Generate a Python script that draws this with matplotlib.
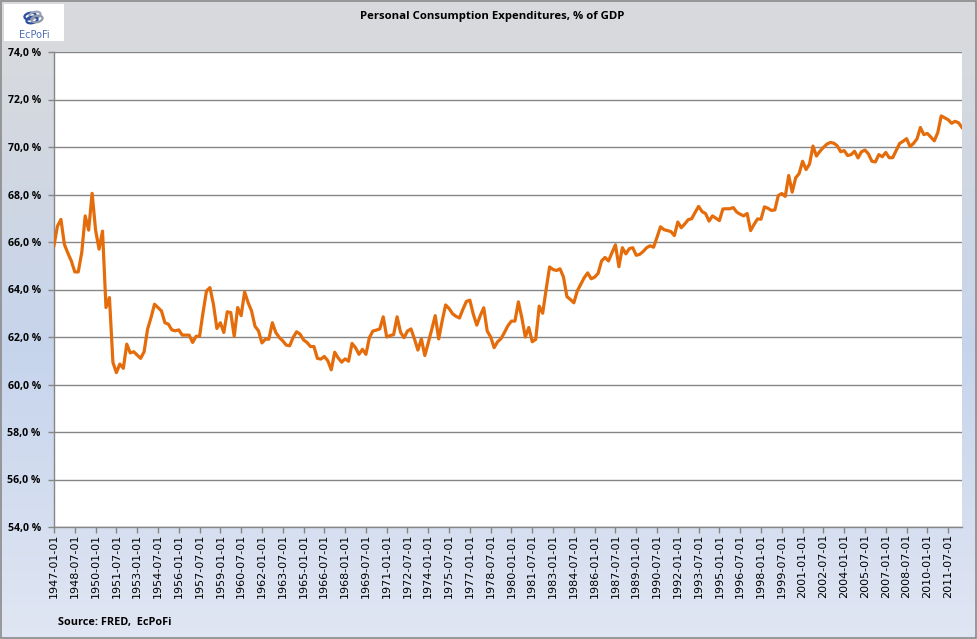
import numpy as np
import pandas as pd
import matplotlib
matplotlib.use("Agg")
import matplotlib.pyplot as plt
from matplotlib.patches import Rectangle, Ellipse
from matplotlib.colors import LinearSegmentedColormap

# ---------------- data ----------------
start_quarter = "1947-01-01"
n_quarters = 263
pce_pct_gdp = [
    65.86, 66.67, 66.95, 65.90, 65.53, 65.20, 64.74, 64.74, 65.55, 67.10,
    66.50, 68.05, 66.50, 65.70, 66.46, 63.24, 63.66, 60.93, 60.50, 60.86,
    60.68, 61.70, 61.33, 61.38, 61.24, 61.10, 61.38, 62.33, 62.82, 63.38,
    63.24, 63.10, 62.60, 62.54, 62.30, 62.26, 62.30, 62.08, 62.08, 62.08,
    61.77, 62.03, 62.03, 63.03, 63.94, 64.08, 63.38, 62.36, 62.60, 62.19,
    63.06, 63.03, 62.03, 63.24, 62.90, 63.90, 63.45, 63.10, 62.45, 62.26,
    61.75, 61.91, 61.91, 62.60, 62.19, 61.98, 61.84, 61.66, 61.63, 61.98,
    62.22, 62.12, 61.88, 61.77, 61.60, 61.60, 61.10, 61.07, 61.18, 61.00,
    60.62, 61.36, 61.12, 60.94, 61.08, 60.98, 61.73, 61.55, 61.27, 61.48,
    61.27, 61.97, 62.25, 62.29, 62.34, 62.85, 62.00, 62.06, 62.10, 62.85,
    62.20, 61.97, 62.25, 62.34, 61.92, 61.45, 61.92, 61.22, 61.76, 62.32,
    62.90, 61.92, 62.67, 63.35, 63.20, 62.98, 62.87, 62.80, 63.17, 63.50,
    63.55, 62.95, 62.50, 62.90, 63.23, 62.25, 62.00, 61.55, 61.80, 61.93,
    62.20, 62.48, 62.67, 62.67, 63.48, 62.80, 62.00, 62.40, 61.80, 61.90,
    63.30, 63.00, 64.00, 64.95, 64.84, 64.80, 64.87, 64.53, 63.70, 63.58,
    63.44, 63.94, 64.22, 64.50, 64.70, 64.45, 64.52, 64.68, 65.20, 65.35,
    65.20, 65.55, 65.88, 64.96, 65.76, 65.50, 65.72, 65.76, 65.44, 65.48,
    65.60, 65.76, 65.84, 65.78, 66.20, 66.64, 66.52, 66.48, 66.44, 66.27,
    66.84, 66.60, 66.76, 66.94, 66.98, 67.25, 67.50, 67.28, 67.20, 66.88,
    67.10, 67.00, 66.90, 67.39, 67.40, 67.40, 67.45, 67.26, 67.17, 67.10,
    67.20, 66.48, 66.74, 66.97, 66.96, 67.48, 67.42, 67.33, 67.35, 67.96,
    68.04, 67.92, 68.80, 68.10, 68.70, 68.88, 69.40, 69.05, 69.28, 70.04,
    69.62, 69.82, 69.98, 70.12, 70.19, 70.16, 70.05, 69.80, 69.85, 69.64,
    69.68, 69.82, 69.54, 69.80, 69.87, 69.71, 69.40, 69.37, 69.68, 69.59,
    69.77, 69.55, 69.55, 69.85, 70.15, 70.24, 70.35, 70.02, 70.15, 70.34,
    70.82, 70.52, 70.57, 70.42, 70.26, 70.60, 71.31, 71.23, 71.15, 71.00,
    71.08, 71.02, 70.82,
]
y_ticks = [54, 56, 58, 60, 62, 64, 66, 68, 70, 72, 74]
label_every = 6
title = "Personal Consumption Expenditures, % of GDP"
source = "Source: FRED,  EcPoFi"

dates = pd.date_range(start_quarter, periods=n_quarters, freq="QS")
cat_labels = [d.strftime("%Y-%m-%d") for d in dates]

# ---------------- figure ----------------
W, H = 977, 639
fig = plt.figure(figsize=(W / 100, H / 100), dpi=100)

def fx(px):
    return px / W

def fy(py):
    return 1 - py / H

# background gradient
bg = fig.add_axes([0, 0, 1, 1], zorder=-10)
cmap = LinearSegmentedColormap.from_list(
    "bg", [(0.0, "#d9dadc"), (0.12, "#d6d9de"), (0.55, "#c6d4ec"), (1.0, "#e0e6f3")])
grad = np.linspace(0, 1, 256).reshape(-1, 1)
bg.imshow(grad, aspect="auto", cmap=cmap, extent=[0, 1, 0, 1], origin="upper")
bg.set_xlim(0, 1); bg.set_ylim(0, 1)
bg.axis("off")
bg.add_patch(Rectangle((0.0008, 0.0012), 0.9984, 0.9976, fill=False,
                       edgecolor="#8a8a8a", lw=1.2, transform=bg.transAxes))

# logo
lx0, ly0, lx1, ly1 = 4, 4, 64, 41
bg.add_patch(Rectangle((fx(lx0), fy(ly1)), fx(lx1) - fx(lx0), fy(ly0) - fy(ly1),
                       facecolor="white", edgecolor="none", transform=bg.transAxes))
for k, (cx, cy, col) in enumerate([(30, 16, "#2d4f9e"), (35, 15, "#9aa6b8"),
                                   (32, 20, "#2d4f9e"), (37, 19, "#8f99ab")]):
    bg.add_patch(Ellipse((fx(cx), fy(cy)), fx(12), 6 / H, angle=35,
                         facecolor="none", edgecolor=col, lw=1.6, transform=bg.transAxes))
fig.text(fx(34), fy(35), "EcPoFi", ha="center", va="center", fontsize=7,
         color="#4a6cb3", family="DejaVu Sans")

# title & source
fig.text(fx(492), fy(17), title, ha="center", va="center", fontsize=8.2,
         fontweight="bold", family="Open Sans", color="black")
fig.text(fx(58), fy(622), source, ha="left", va="center", fontsize=7.8,
         fontweight="bold", family="Open Sans", color="black")

# plot area
L, R, T, B = 54, 962, 52, 527
ax = fig.add_axes([fx(L), fy(B), fx(R) - fx(L), fy(T) - fy(B)])
ax.set_facecolor("white")
x = np.arange(n_quarters)
ax.plot(x, pce_pct_gdp, color="#E46C0A", lw=2.3, solid_joinstyle="round", zorder=3)

ax.set_xlim(0, n_quarters - 1)
ax.set_ylim(min(y_ticks), max(y_ticks))
ax.set_yticks(y_ticks)
ax.set_yticklabels([f"{v:.1f} %".replace(".", ",") for v in y_ticks],
                   fontsize=7.6, fontweight="bold", family="Open Sans")
ax.grid(axis="y", color="#868686", lw=1.0, zorder=1)
ax.set_axisbelow(True)

tick_pos = list(range(0, n_quarters, label_every))
ax.set_xticks(tick_pos)
ax.set_xticklabels([cat_labels[i] for i in tick_pos], rotation=90,
                   fontsize=8, family="DejaVu Sans", va="top", ha="center")

for s in ["top", "right"]:
    ax.spines[s].set_visible(False)
for s in ["left", "bottom"]:
    ax.spines[s].set_color("#868686")
    ax.spines[s].set_linewidth(1.0)
ax.tick_params(axis="y", length=4, width=1, color="#868686", pad=5.5)
ax.tick_params(axis="x", length=4, width=1, color="#868686", pad=1)

fig.savefig("out.png", dpi=100)
